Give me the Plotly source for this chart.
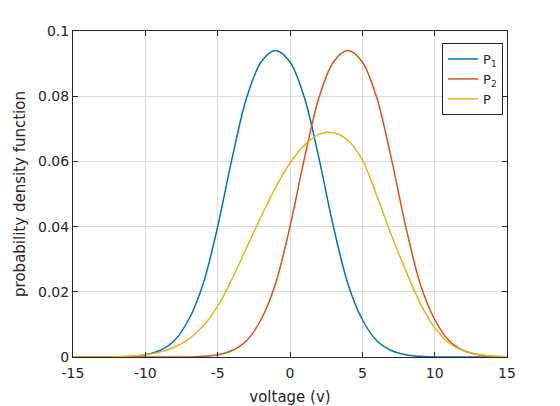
import plotly.graph_objects as go

# data
voltage = list(range(-15, 16))
p1 = [0, 0, 0, 0, 0.0002, 0.0007, 0.002, 0.005, 0.0115, 0.0225, 0.040, 0.061, 0.0795, 0.0905, 0.094,
      0.0905, 0.0795, 0.061, 0.040, 0.0225, 0.0115, 0.005, 0.002, 0.0007, 0.0002, 0, 0, 0, 0, 0, 0]
p2 = [0, 0, 0, 0, 0, 0, 0, 0, 0, 0.0002, 0.0007, 0.002, 0.005, 0.0115, 0.0225,
      0.040, 0.061, 0.0795, 0.0905, 0.094, 0.0905, 0.0795, 0.061, 0.040, 0.0225, 0.0115, 0.005, 0.002,
      0.0007, 0.0002, 0]
p = [0, 0, 0, 0.0001, 0.0003, 0.0007, 0.0015, 0.003, 0.0055, 0.0095, 0.0155, 0.024, 0.0335, 0.043,
     0.052, 0.0595, 0.065, 0.0683, 0.0688, 0.0665, 0.0605, 0.0495, 0.0375, 0.0265, 0.0165, 0.009,
     0.0043, 0.0019, 0.0008, 0.0003, 0.0001]

series_names = ["P<sub>1</sub>", "P<sub>2</sub>", "P"]
series_values = [p1, p2, p]
series_colors = ["#0072BD", "#D95319", "#EDB120"]

xticks = [-15, -10, -5, 0, 5, 10, 15]
xtick_labels = ["-15", "-10", "-5", "0", "5", "10", "15"]
yticks = [0, 0.02, 0.04, 0.06, 0.08, 0.1]
ytick_labels = ["0", "0.02", "0.04", "0.06", "0.08", "0.1"]

fig = go.Figure()
for name, vals, col in zip(series_names, series_values, series_colors):
    fig.add_trace(go.Scatter(x=voltage, y=vals, name=name, mode="lines",
                             line=dict(color=col, width=1.5, shape="spline", smoothing=0.9)))

axis_common = dict(showline=True, linecolor="#262626", linewidth=1, mirror="ticks",
                   ticks="inside", ticklen=5, tickcolor="#262626", showgrid=True,
                   gridcolor="#dcdcdc", gridwidth=1, zeroline=False, automargin=False,
                   tickfont=dict(family="DejaVu Sans", size=14, color="#262626"))

fig.update_layout(
    width=560, height=406,
    margin=dict(l=73, r=53, t=31, b=49),
    paper_bgcolor="white", plot_bgcolor="white",
    font=dict(family="DejaVu Sans", size=14, color="#262626"),
    showlegend=True,
    legend=dict(x=0.991, y=0.963, xanchor="right", yanchor="top",
                bgcolor="white", bordercolor="#262626", borderwidth=1,
                font=dict(family="DejaVu Sans", size=13, color="#262626"),
                tracegroupgap=0, itemwidth=30),
)
fig.update_xaxes(range=[-15, 15], tickvals=xticks, ticktext=xtick_labels, ticklabelstandoff=3,
                 title=dict(text="voltage (v)", font=dict(size=15), standoff=12), **axis_common)
fig.update_yaxes(range=[0, 0.1], tickvals=yticks, ticktext=ytick_labels,
                 title=dict(text="probability density function", font=dict(size=15), standoff=8),
                 **axis_common)

fig.write_html("out.html")
